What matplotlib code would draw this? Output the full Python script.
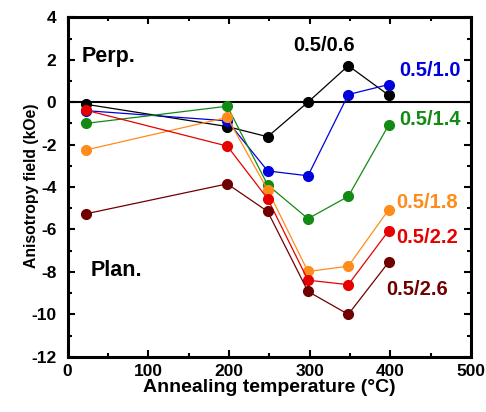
import matplotlib
matplotlib.use("Agg")
from matplotlib import pyplot as plt
from matplotlib.ticker import MultipleLocator

plt.rcParams['font.family'] = ['Liberation Sans', 'DejaVu Sans']
plt.rcParams['font.weight'] = 'bold'
plt.rcParams['axes.unicode_minus'] = False

# annealing temperatures (as plotted, slightly left of round values)
temps = [23, 198, 248, 298, 348, 398]

hk_06 = [-0.1, -1.15, -1.63, 0.0, 1.72, 0.33]
hk_10 = [-0.4, -0.88, -3.24, -3.47, 0.36, 0.83]
hk_14 = [-1.0, -0.19, -3.9, -5.49, -4.44, -1.08]
hk_18 = [-2.25, -0.72, -4.13, -7.98, -7.73, -5.07]
hk_22 = [-0.38, -2.07, -4.55, -8.39, -8.6, -6.06]
hk_26 = [-5.26, -3.85, -5.15, -8.92, -10.0, -7.54]

names = ['0.5/0.6', '0.5/1.0', '0.5/1.4', '0.5/1.8', '0.5/2.2', '0.5/2.6']
colors = ['black', '#0000dd', '#138a13', '#ff8c1a', '#e60000', '#700000']
series = [hk_06, hk_10, hk_14, hk_18, hk_22, hk_26]

# where each series label sits (data coords)
label_pos = [(318, 2.69), (449, 1.47), (449, -0.84), (446, -4.71), (446, -6.36), (433, -8.82)]

fig = plt.figure(figsize=(4.86, 4.12), dpi=100)
ax = fig.add_axes([0.139, 0.134, 0.830, 0.824])

ax.axhline(0, color='black', lw=1.5, zorder=1)

for vals, c in zip(series, colors):
    ax.plot(temps, vals, '-o', color=c, lw=0.9, ms=7, zorder=3)

for name, c, (x, y) in zip(names, colors, label_pos):
    ax.text(x, y, name, color=c, fontsize=14.5, fontweight='bold', ha='center', va='center')

ax.text(18, 1.9, 'Perp.', fontsize=15.5, fontweight='bold', ha='left', va='baseline')
ax.text(28, -8.2, 'Plan.', fontsize=15.5, fontweight='bold', ha='left', va='baseline')

ax.set_xlim(0, 500)
ax.set_ylim(-12, 4)
ax.xaxis.set_major_locator(MultipleLocator(100))
ax.xaxis.set_minor_locator(MultipleLocator(50))
ax.yaxis.set_major_locator(MultipleLocator(2))
ax.yaxis.set_minor_locator(MultipleLocator(1))
ax.tick_params(which='both', direction='in', top=True, right=True, width=1.5)
ax.tick_params(which='major', length=5, labelsize=12.5)
ax.tick_params(axis='x', which='major', pad=5)
ax.tick_params(axis='y', which='major', pad=8)
ax.tick_params(which='minor', length=3)
for lab in ax.get_xticklabels() + ax.get_yticklabels():
    lab.set_fontweight('bold')
for sp in ax.spines.values():
    sp.set_linewidth(2.2)

ax.set_xlabel('Annealing temperature (°C)', fontsize=14, fontweight='bold', labelpad=0)
ax.set_ylabel('Anisotropy field (kOe)', fontsize=11.3, fontweight='bold')
ax.yaxis.set_label_coords(-0.07, 0.505)

fig.savefig('out.png', dpi=100)
